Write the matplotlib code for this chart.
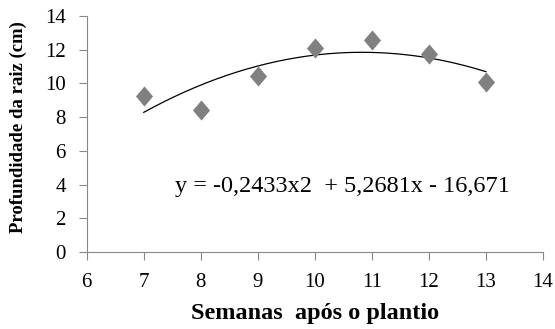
import numpy as np
import matplotlib
matplotlib.use("Agg")
import matplotlib.pyplot as plt

semanas = [7, 8, 9, 10, 11, 12, 13]
profundidade = [9.25, 8.45, 10.45, 12.1, 12.6, 11.75, 10.1]
coef = [-0.2433, 5.2681, -16.671]  # tendencia polinomial (grau 2)
equacao = "y = -0,2433x2  + 5,2681x - 16,671"

plt.rcParams['font.family'] = ['Liberation Serif', 'DejaVu Serif']

fig = plt.figure(figsize=(5.55, 3.29), dpi=100)
ax = fig.add_axes([86.7 / 555, 1 - 252 / 329, (543 - 86.7) / 555, (252 - 16) / 329])

losango = [(0, 1), (0.85, 0), (0, -1), (-0.85, 0), (0, 1)]
ax.scatter(semanas, profundidade, marker=losango, s=210, color='#808080', zorder=3, linewidths=0)

xs = np.linspace(min(semanas), max(semanas), 200)
ax.plot(xs, np.polyval(coef, xs), color='black', lw=0.9)

ax.text(10.49, 3.86, equacao, fontsize=17.5, ha='center', va='center')

ax.set_xlim(6, 14)
ax.set_ylim(0, 14)
ax.set_xticks(range(6, 15))
ax.set_yticks(range(0, 15, 2))
for s in ['top', 'right']:
    ax.spines[s].set_visible(False)
for s in ['left', 'bottom']:
    ax.spines[s].set_color('#888888')
ax.tick_params(colors='#888888', labelcolor='black', labelsize=15, length=6, width=0.8, pad=9)

ax.set_xlabel("Semanas  após o plantio", fontsize=17.5, fontweight='bold', labelpad=8)
ax.set_ylabel("Profundidade da raiz (cm)", fontsize=13.5, fontweight='bold')
ax.yaxis.set_label_coords(-0.131, 0.53)

fig.savefig("out.png", dpi=100)
